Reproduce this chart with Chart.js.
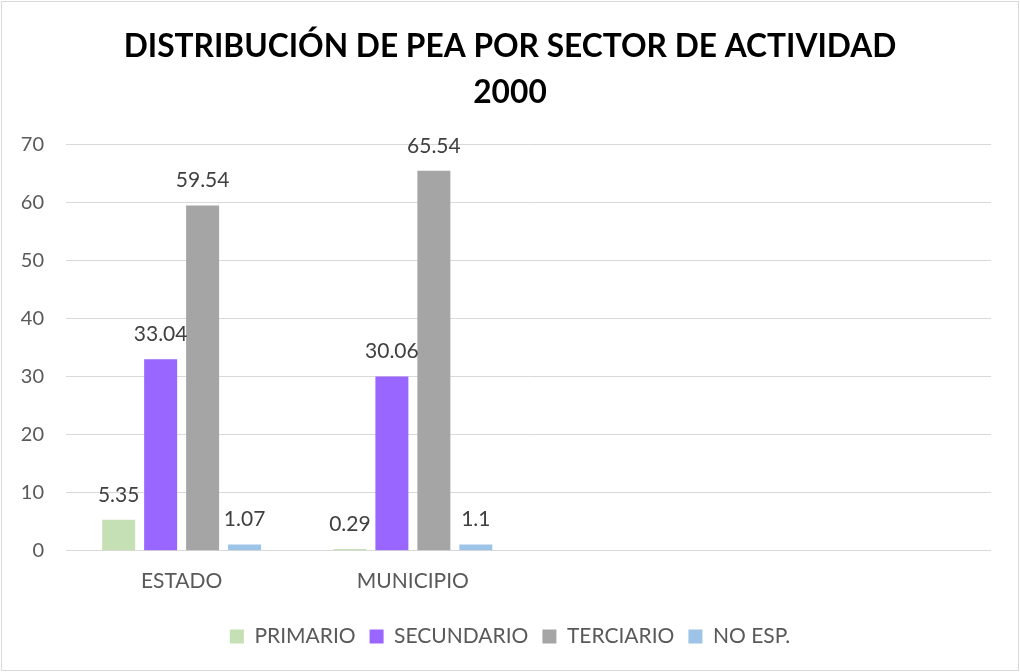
<!DOCTYPE html>
<html><head><meta charset="utf-8">
<script src="https://cdn.jsdelivr.net/npm/chart.js@4/dist/chart.umd.min.js"></script>
<style>html,body{margin:0;padding:0;background:#fff;}#wrap{width:1020px;height:672px;}</style>
</head><body><div id="wrap"><canvas id="c" width="1020" height="672"></canvas></div>
<script>
const categories = ['ESTADO', 'MUNICIPIO', '', ''];
const primario = [5.35, 0.29, null, null];
const secundario = [33.04, 30.06, null, null];
const terciario = [59.54, 65.54, null, null];
const noEsp = [1.07, 1.1, null, null];
const yTicks = [0, 10, 20, 30, 40, 50, 60, 70];
const titleLines = ['DISTRIBUCIÓN DE PEA POR SECTOR DE ACTIVIDAD', '2000'];

const FONT = 'Lato, "Open Sans", sans-serif';

const borderPlugin = {
  id: 'border',
  beforeDraw(chart) {
    const ctx = chart.ctx;
    ctx.save();
    ctx.fillStyle = '#fff';
    ctx.fillRect(0, 0, chart.width, chart.height);
    ctx.strokeStyle = '#d9d9d9';
    ctx.lineWidth = 1;
    ctx.strokeRect(1.5, 1.5, chart.width - 3, chart.height - 3);
    ctx.restore();
  }
};

const labelPlugin = {
  id: 'vlabels',
  afterDatasetsDraw(chart) {
    const ctx = chart.ctx;
    ctx.save();
    ctx.font = '21px ' + FONT;
    ctx.fillStyle = '#404040';
    ctx.textAlign = 'center';
    ctx.textBaseline = 'middle';
    chart.data.datasets.forEach((ds, i) => {
      const meta = chart.getDatasetMeta(i);
      meta.data.forEach((bar, j) => {
        const v = ds.data[j];
        if (v === null || v === undefined) return;
        const p = bar.getProps(['x', 'y'], true);
        ctx.fillText(String(v), p.x, p.y - 25);
      });
    });
    ctx.restore();
  }
};

new Chart(document.getElementById('c'), {
  type: 'bar',
  data: {
    labels: categories,
    datasets: [
      { label: 'PRIMARIO', data: primario, backgroundColor: '#c5e0b4' },
      { label: 'SECUNDARIO', data: secundario, backgroundColor: '#9966ff' },
      { label: 'TERCIARIO', data: terciario, backgroundColor: '#a5a5a5' },
      { label: 'NO ESP.', data: noEsp, backgroundColor: '#9dc3e6' }
    ]
  },
  options: {
    responsive: false,
    animation: false,
    devicePixelRatio: 1,
    layout: { padding: { left: 0, right: 0, top: 14, bottom: 15 } },
    datasets: { bar: { categoryPercentage: 0.726, barPercentage: 0.786 } },
    plugins: {
      title: {
        display: true,
        text: titleLines,
        color: '#000',
        font: { family: FONT, size: 31.7, weight: 'bold', lineHeight: 1.45 },
        padding: { top: 10, bottom: 29 }
      },
      legend: {
        position: 'bottom',
        labels: {
          boxWidth: 14, boxHeight: 14, padding: 14,
          color: '#595959',
          font: { family: FONT, size: 21 }
        }
      },
      tooltip: { enabled: false }
    },
    scales: {
      x: {
        grid: { display: false, drawTicks: false },
        border: { display: false },
        ticks: { color: '#595959', font: { family: FONT, size: 21 }, padding: 18 }
      },
      y: {
        min: 0, max: 70,
        afterBuildTicks(scale) { scale.ticks = yTicks.map(v => ({ value: v })); },
        afterFit(scale) { scale.width = 66; },
        grid: { color: '#d9d9d9', lineWidth: 1, drawTicks: false },
        border: { display: false },
        ticks: { color: '#595959', font: { family: FONT, size: 20 }, padding: 22 }
      },
      yR: {
        position: 'right',
        display: true,
        min: 0, max: 70,
        afterFit(scale) { scale.width = 29; },
        grid: { display: false, drawTicks: false },
        border: { display: false },
        ticks: { display: false }
      }
    }
  },
  plugins: [borderPlugin, labelPlugin]
});
</script></body></html>
